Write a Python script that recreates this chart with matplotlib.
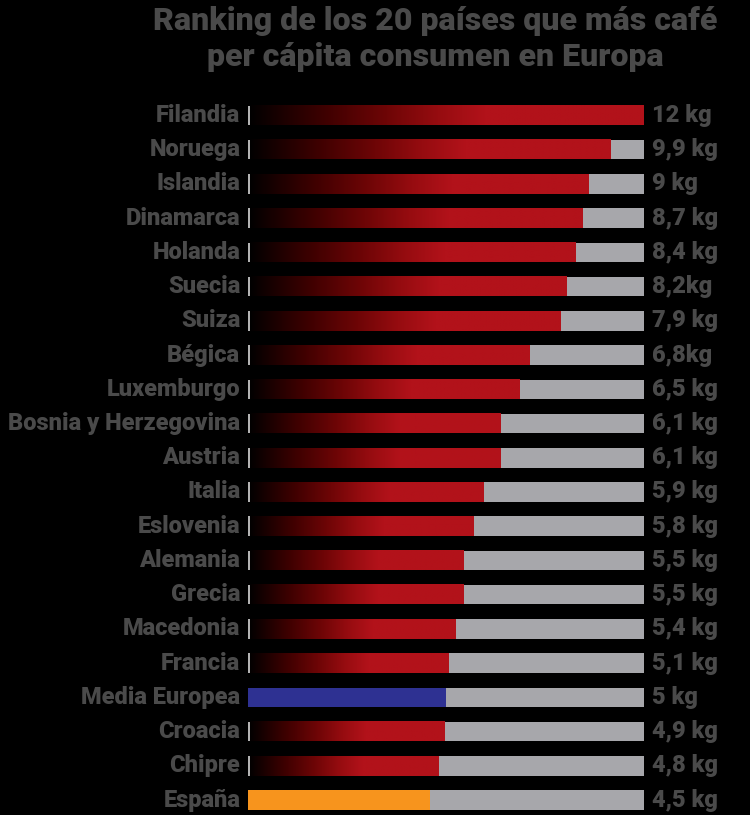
"""
Ranking de consumo de café per cápita en Europa (barras horizontales con degradado).
"""

import os
import numpy as np
import matplotlib
matplotlib.use("Agg")
import matplotlib.pyplot as plt
import matplotlib.font_manager as fm
from matplotlib.colors import LinearSegmentedColormap

# ---------------------------------------------------------------------------
# Datos
# ---------------------------------------------------------------------------

paises = [
    "Filandia", "Noruega", "Islandia", "Dinamarca", "Holanda", "Suecia",
    "Suiza", "Bégica", "Luxemburgo", "Bosnia y Herzegovina", "Austria",
    "Italia", "Eslovenia", "Alemania", "Grecia", "Macedonia", "Francia",
    "Media Europea", "Croacia", "Chipre", "España",
]

etiquetas = [
    "12 kg", "9,9 kg", "9 kg", "8,7 kg", "8,4 kg", "8,2kg", "7,9 kg",
    "6,8kg", "6,5 kg", "6,1 kg", "6,1 kg", "5,9 kg", "5,8 kg", "5,5 kg",
    "5,5 kg", "5,4 kg", "5,1 kg", "5 kg", "4,9 kg", "4,8 kg", "4,5 kg",
]

# longitud de barra tal como aparece dibujada (escala 0-12)
largo = [
    12.0, 11.0, 10.33, 10.14, 9.93, 9.66, 9.48, 8.54, 8.23, 7.66, 7.66,
    7.14, 6.84, 6.53, 6.53, 6.30, 6.08, 5.99, 5.96, 5.78, 5.51,
]

maximo = 12.0

# ---------------------------------------------------------------------------
# Estilo
# ---------------------------------------------------------------------------

FONDO = "#000000"
TEXTO = "#4a4a4a"
GRIS = "#a7a7ab"
ROJO = "#b2121a"
AZUL = "#2e3192"
NARANJA = "#f7941d"

degradado = LinearSegmentedColormap.from_list(
    "cafe",
    [(0.0, "#000000"), (0.18, "#3a0000"), (0.35, "#6e0506"),
     (0.48, "#960c10"), (0.60, ROJO), (1.0, ROJO)],
)
colores_planos = {"Media Europea": AZUL, "España": NARANJA}


def fuente_gruesa():
    """Busca una fuente muy negrita instalada; si no hay, DejaVu Sans."""
    prefs = ["Roboto-Black.", "Roboto-ExtraBold.", "RobotoCondensed-Black.",
             "RobotoCondensed-ExtraBold.", "RobotoCondensed-Bold.",
             "LiberationSansNarrow-Bold.", "DejaVuSansCondensed-Bold."]
    archivos = [f.fname for f in fm.fontManager.ttflist]
    for p in prefs:
        for f in archivos:
            if os.path.basename(f).startswith(p):
                return dict(fname=f)
    return dict(family="DejaVu Sans", weight="bold")


FUENTE = fuente_gruesa()


def ajustar(fig, texto, ancho_px, tam_max):
    """Tamaño de letra para que `texto` mida ancho_px píxeles (con tope)."""
    prop = fm.FontProperties(size=20, **FUENTE)
    t = fig.text(0, 0, texto, fontproperties=prop)
    w = t.get_window_extent(renderer=fig.canvas.get_renderer()).width
    t.remove()
    return min(tam_max, 20 * ancho_px / w)


fig = plt.figure(figsize=(7.5, 8.15), dpi=100)
fig.patch.set_facecolor(FONDO)

tam_etq = ajustar(fig, "Bosnia y Herzegovina", 238, 17)
tam_tit = ajustar(fig, "Ranking de los 20 países que más café", 565, 23.2)
prop_etq = fm.FontProperties(size=tam_etq, **FUENTE)
prop_tit = fm.FontProperties(size=tam_tit, **FUENTE)

# eje colocado en píxeles: x=0 en 248.5 px, x=12 en 644 px
alto_fila = 34.23
top_px = 115.5 - alto_fila / 2
ax = fig.add_axes([248.5 / 750, 0, 395.5 / 750, (815 - top_px) / 815])
ax.set_facecolor(FONDO)
ax.axis("off")

n = len(paises)
h = 0.57
y = np.arange(n)
ax.barh(y, [maximo] * n, height=h, color=GRIS, zorder=1)

grad = np.linspace(0, 1, 256).reshape(1, -1)
for i, (pais, l) in enumerate(zip(paises, largo)):
    if pais in colores_planos:
        ax.barh(i, l, height=h, color=colores_planos[pais], zorder=2)
    else:
        ax.imshow(grad, cmap=degradado, aspect="auto", zorder=2,
                  extent=[0, l, i + h / 2, i - h / 2], interpolation="bilinear")
        ax.vlines(0.02, i - h / 2, i + h / 2, color="#d8d8d8", lw=1.2, zorder=3)

    ax.annotate(pais, xy=(0, i), xytext=(-6, 0), textcoords="offset points",
                ha="right", va="center", fontproperties=prop_etq,
                color=TEXTO, annotation_clip=False)
    ax.annotate(etiquetas[i], xy=(maximo, i), xytext=(5.5, 0),
                textcoords="offset points", ha="left", va="center",
                fontproperties=prop_etq, color=TEXTO, annotation_clip=False)

ax.set_xlim(0, maximo)
ax.set_ylim(20 + (815 - 800) / alto_fila, -0.5)

fig.text(0.58, 0.993,
         "Ranking de los 20 países que más café\nper cápita consumen en Europa",
         ha="center", va="top", fontproperties=prop_tit, color=TEXTO,
         linespacing=1.25)

fig.savefig("out.png", dpi=100, facecolor=FONDO)
